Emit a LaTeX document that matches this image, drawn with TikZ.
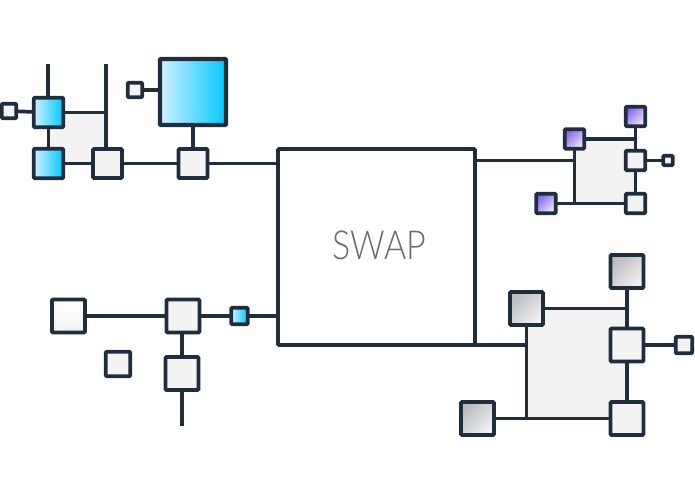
\documentclass[tikz,border=0pt]{standalone}
\usepackage{fontspec}
\usepackage{graphicx}
\newfontfamily\swapfont{Lato Light}
\usetikzlibrary{backgrounds}
\definecolor{ink}{HTML}{1F2D3D}
\definecolor{panel}{HTML}{F3F3F4}
\definecolor{bluehi}{HTML}{D2F1FE}
\definecolor{bluelo}{HTML}{00C8FF}
\definecolor{purplehi}{HTML}{8563EE}
\definecolor{purplelo}{HTML}{ECE9F8}
\definecolor{greyhi}{HTML}{BABCBF}
\definecolor{greylo}{HTML}{F1F1F2}
\tikzset{
  sq/.style={draw=ink,line width=3.8pt,rounded corners=1pt,inner sep=0pt,outer sep=0pt,minimum size=#1,fill=panel},
  bluebox/.style={sq=#1,shading=axis,top color=bluehi,bottom color=bluelo,shading angle=90},
  purplebox/.style={sq=#1,shading=axis,top color=purplehi,bottom color=purplelo,shading angle=45},
  greybox/.style={sq=#1,shading=axis,top color=greyhi,bottom color=greylo,shading angle=45},
  paperbox/.style={sq=#1,shading=axis,top color=white,bottom color=panel},
  wire/.style={draw=ink,line width=3.7pt},
  backfill/.style={fill=panel}
}
\begin{document}
\begin{tikzpicture}[x=1pt,y=-1pt]
\useasboundingbox (0,0) rectangle (695,494);
% main box
\node[draw=ink,line width=3.7pt,fill=white,inner sep=0pt,outer sep=0pt,minimum width=197pt,minimum height=196pt,rounded corners=1pt,text=black!58,font=\swapfont\fontsize{40}{40}\selectfont] (main) at (376.5,247) {\hspace*{6pt}\raisebox{4pt}{\scalebox{.85}[1]{SWAP}}};
% top left
\node[sq=14.5pt] (tlsmall) at (9,111) {};
\node[bluebox=29.5pt] (tlb1) at (48.5,112.5) {};
\node[bluebox=29.5pt] (tlb2) at (48.5,163.5) {};
\node[sq=29pt] (tlw) at (107.5,163.5) {};
\node[sq=29pt] (tlj) at (193,163.5) {};
\node[sq=66pt,line width=4.3pt,shading=axis,top color=bluehi,bottom color=bluelo,shading angle=90] (tlbig) at (193,92) {};
\node[sq=14.5pt] (tlbigs) at (135,90) {};
\coordinate (tltop1) at (48,64);
\coordinate (tltop2) at (106,64);
% top right
\node[purplebox=19.5pt] (trp1) at (574.5,139) {};
\node[purplebox=19.5pt] (trp2) at (635.5,116.5) {};
\node[purplebox=19.5pt] (trp3) at (546,203.5) {};
\node[sq=19.5pt] (trw1) at (635.5,160.5) {};
\node[sq=19.5pt] (trw2) at (635.5,203.5) {};
\node[sq=9.5pt] (trs) at (668,160.5) {};
% bottom right
\node[greybox=33pt] (brg1) at (526.5,308.5) {};
\node[greybox=33pt] (brg2) at (627,271.5) {};
\node[greybox=33pt] (brg3) at (477.5,418.5) {};
\node[sq=33pt] (brw1) at (627,345) {};
\node[sq=33pt] (brw2) at (627,418.5) {};
\node[sq=16.5pt] (brs) at (684,345) {};
% bottom left
\node[paperbox=33pt] (bll) at (68.5,316) {};
\node[sq=33pt] (blj) at (183,316) {};
\node[sq=33pt] (bld) at (182,373.5) {};
\node[sq=24.5pt] (blo) at (118,364) {};
\node[bluebox=16.5pt] (blb) at (239.5,316) {};
\coordinate (blend) at (182,426);
\begin{pgfonlayer}{background}
  \fill[backfill] (tlb1.center) rectangle (tltop2 |- tlw.center);
  \fill[backfill] (trp1.center) rectangle (trw2.center);
  \fill[backfill] (brg1.center) rectangle (brw2.center);
  % top left
  \draw[wire] (tlsmall) -- (tlb1);
  \draw[wire] (tltop1) -- (tltop1 |- tlb1.north);
  \draw[wire] (tlb1) -- (tlb2);
  \draw[wire] (tlb1) -- (tlb1 -| tltop2);
  \draw[wire] (tltop2) -- (tltop2 |- tlw.north);
  \draw[wire] (tlb2) -- (tlw);
  \draw[wire] (tlw) -- (tlj);
  \draw[wire] (tlj) -- (tlj -| main.west);
  \draw[wire] (tlj) -- (tlbig);
  \draw[wire] (tlbigs) -- (tlbigs -| tlbig.west);
  % top right
  \draw[wire] (main.east |- trw1) -- (trp1 |- trw1);
  \draw[wire] (trp1) -- (trp1 |- trp3);
  \draw[wire] (trp3) -- (trw2);
  \draw[wire] (trp1) -- (trp1 -| trw1);
  \draw[wire] (trp2) -- (trw1);
  \draw[wire] (trw1) -- (trw2);
  \draw[wire] (trw1) -- (trs);
  % bottom right
  \draw[wire] (main.south east) -- (brg1 |- main.south);
  \draw[wire] (brg1) -- (brg1 |- brg3);
  \draw[wire] (brg3) -- (brw2);
  \draw[wire] (brg1) -- (brg1 -| brg2);
  \draw[wire] (brg2) -- (brw1);
  \draw[wire] (brw1) -- (brw2);
  \draw[wire] (brw1) -- (brs);
  % bottom left
  \draw[wire] (bll) -- (blj);
  \draw[wire] (blj) -- (blb);
  \draw[wire] (blb) -- (blb -| main.west);
  \draw[wire] (blj.south -| bld) -- (bld);
  \draw[wire] (bld) -- (blend);
\end{pgfonlayer}
\end{tikzpicture}
\end{document}
